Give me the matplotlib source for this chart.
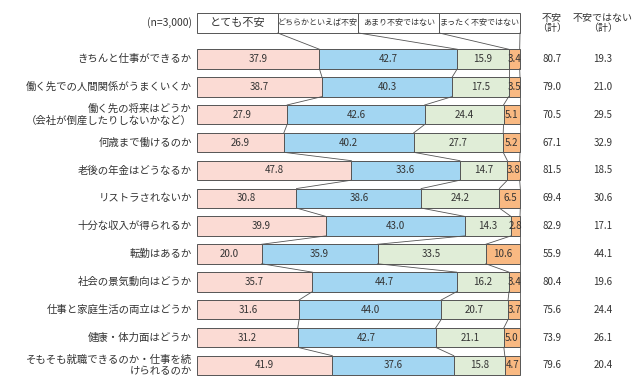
import matplotlib
matplotlib.use('Agg')
from matplotlib import pyplot as plt
from matplotlib.patches import Rectangle
import numpy as np

plt.rcParams['font.family'] = ['Noto Sans CJK JP', 'DejaVu Sans']

items = [
    'きちんと仕事ができるか',
    '働く先での人間関係がうまくいくか',
    '働く先の将来はどうか\n（会社が倒産したりしないかなど）',
    '何歳まで働けるのか',
    '老後の年金はどうなるか',
    'リストラされないか',
    '十分な収入が得られるか',
    '転勤はあるか',
    '社会の景気動向はどうか',
    '仕事と家庭生活の両立はどうか',
    '健康・体力面はどうか',
    'そもそも就職できるのか・仕事を続\nけられるのか',
]
categories = ['とても不安', 'どちらかといえば不安', 'あまり不安ではない', 'まったく不安ではない']

very_anxious = [37.9, 38.7, 27.9, 26.9, 47.8, 30.8, 39.9, 20.0, 35.7, 31.6, 31.2, 41.9]
rather_anxious = [42.7, 40.3, 42.6, 40.2, 33.6, 38.6, 43.0, 35.9, 44.7, 44.0, 42.7, 37.6]
not_very = [15.9, 17.5, 24.4, 27.7, 14.7, 24.2, 14.3, 33.5, 16.2, 20.7, 21.1, 15.8]
not_at_all = [3.4, 3.5, 5.1, 5.2, 3.8, 6.5, 2.8, 10.6, 3.4, 3.7, 5.0, 4.7]
anxious_total = [80.7, 79.0, 70.5, 67.1, 81.5, 69.4, 82.9, 55.9, 80.4, 75.6, 73.9, 79.6]
not_anxious_total = [19.3, 21.0, 29.5, 32.9, 18.5, 30.6, 17.1, 44.1, 19.6, 24.4, 26.1, 20.4]

colors = ['#fbdbd4', '#a3d6f2', '#e0edd7', '#f9b982']
edge = '#555555'
txt = '#333333'

series = np.array([very_anxious, rather_anxious, not_very, not_at_all])
n = len(items)
y = np.arange(n)
h = 0.70

fig = plt.figure(figsize=(6.4, 3.9), dpi=100)
ax = fig.add_axes([0, 0, 1, 1])
# 0% at x=197px, 100% at x=520px; row i centre at 59 + 27.86*i px
sx = 3.23
sy = 27.86
ax.set_xlim(-197 / sx, (640 - 197) / sx)
ax.set_ylim((390 - 59) / sy, -59 / sy)
ax.axis('off')

left = np.zeros(n)
for k in range(4):
    ax.barh(y, series[k], left=left, height=h, color=colors[k],
            edgecolor=edge, linewidth=0.7)
    for i in range(n):
        ax.text(left[i] + series[k][i] / 2, y[i], f'{series[k][i]:.1f}',
                ha='center', va='center', fontsize=7, color=txt)
    left = left + series[k]

# connector lines between rows
cum = np.cumsum(series, axis=0)
for i in range(n - 1):
    for k in range(4):
        ax.plot([cum[k][i], cum[k][i + 1]], [y[i] + h / 2, y[i + 1] - h / 2],
                color=edge, lw=0.6)

# header boxes
top = (13 - 59) / sy
bot = (33 - 59) / sy
for k, c in enumerate(categories):
    ax.add_patch(Rectangle((k * 25, top), 25, bot - top, facecolor='white',
                           edgecolor=edge, linewidth=0.7))
    ax.text(k * 25 + 12.5, (top + bot) / 2, c, ha='center', va='center',
            fontsize=8 if k == 0 else 5.8, color=txt)
    ax.plot([(k + 1) * 25, cum[k][0]], [bot, y[0] - h / 2], color=edge, lw=0.6)

ax.text(-1.6, (top + bot) / 2, '(n=3,000)', ha='right', va='center',
        fontsize=7.5, color=txt)

# totals columns
x1 = (552 - 197) / sx
x2 = (603 - 197) / sx
ax.text(x1, (top + bot) / 2, '不安\n（計）', ha='center', va='center',
        fontsize=7.2, color=txt, linespacing=1.1)
ax.text(x2, (top + bot) / 2, '不安ではない\n（計）', ha='center', va='center',
        fontsize=7.2, color=txt, linespacing=1.1)
for i in range(n):
    ax.text(x1, y[i], f'{anxious_total[i]:.1f}', ha='center', va='center',
            fontsize=7, color=txt)
    ax.text(x2, y[i], f'{not_anxious_total[i]:.1f}', ha='center', va='center',
            fontsize=7, color=txt)

# item labels
for i in range(n):
    ax.text(-1.6, y[i], items[i], ha='right', va='center', fontsize=7.5,
            color=txt, linespacing=1.15)

plt.savefig('out.png', dpi=100)
